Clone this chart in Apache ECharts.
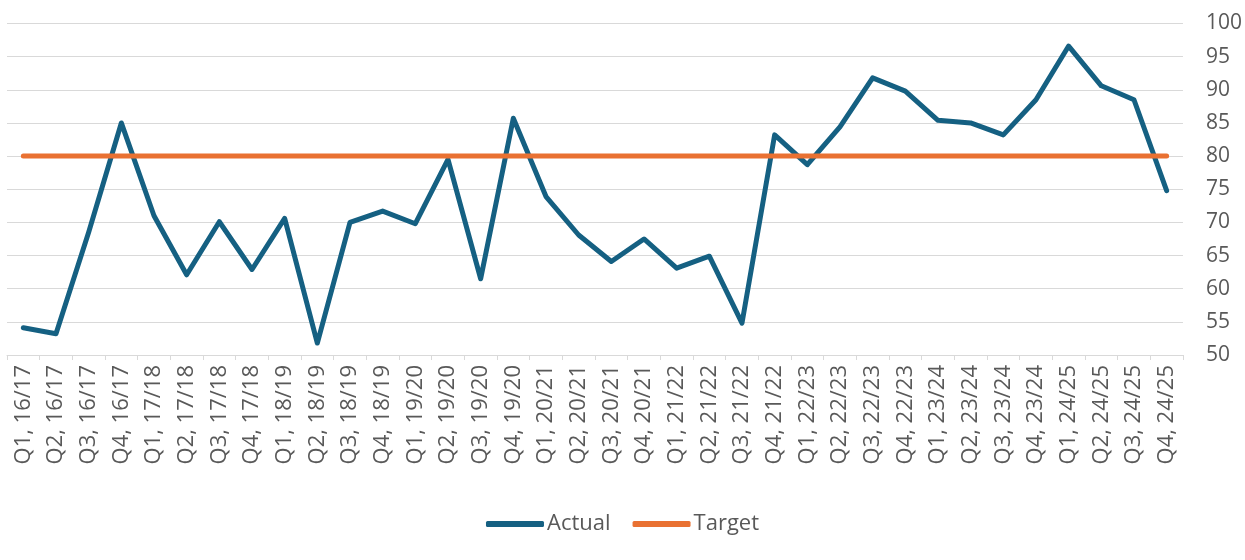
<!DOCTYPE html>
<html>
<head>
<meta charset="utf-8">
<script src="https://cdn.jsdelivr.net/npm/echarts@6/dist/echarts.min.js"></script>
<style>html,body{margin:0;padding:0;background:#fff}#c{width:1245px;height:560px}</style>
</head>
<body>
<div id="c"></div>
<script>
const categories = ["Q1, 16/17","Q2, 16/17","Q3, 16/17","Q4, 16/17","Q1, 17/18","Q2, 17/18","Q3, 17/18","Q4, 17/18","Q1, 18/19","Q2, 18/19","Q3, 18/19","Q4, 18/19","Q1, 19/20","Q2, 19/20","Q3, 19/20","Q4, 19/20","Q1, 20/21","Q2, 20/21","Q3, 20/21","Q4, 20/21","Q1, 21/22","Q2, 21/22","Q3, 21/22","Q4, 21/22","Q1, 22/23","Q2, 22/23","Q3, 22/23","Q4, 22/23","Q1, 23/24","Q2, 23/24","Q3, 23/24","Q4, 23/24","Q1, 24/25","Q2, 24/25","Q3, 24/25","Q4, 24/25"];
const actual = [54.1,53.2,68.5,85.0,71.0,62.1,70.1,62.9,70.6,51.8,70.0,71.7,69.8,79.5,61.5,85.7,73.9,68.1,64.1,67.5,63.1,64.9,54.8,83.2,78.7,84.4,91.8,89.8,85.4,85.0,83.2,88.5,96.6,90.6,88.5,74.8];
const target = [80,80,80,80,80,80,80,80,80,80,80,80,80,80,80,80,80,80,80,80,80,80,80,80,80,80,80,80,80,80,80,80,80,80,80,80];
const yTicks = {min: 50, max: 100, interval: 5};

const chart = echarts.init(document.getElementById('c'), null, {renderer: 'canvas'});
const font = "'Open Sans', 'Liberation Sans', Arial, sans-serif";
chart.setOption({
  animation: false,
  grid: {left: 7, right: 61, top: 23.5, bottom: 205, containLabel: false},
  legend: {
    top: 508, left: 'center', itemWidth: 58, itemHeight: 6, itemGap: 22,
    icon: 'roundRect',
    textStyle: {fontFamily: font, fontSize: 22, color: '#595959', padding: [0,0,0,-2]},
    data: ['Actual', 'Target']
  },
  xAxis: {
    type: 'category', data: categories, boundaryGap: true,
    axisLine: {lineStyle: {color: '#d9d9d9', width: 1}},
    axisTick: {show: true, length: 5, lineStyle: {color: '#d9d9d9'}},
    axisLabel: {rotate: 90, interval: 0, fontFamily: font, fontSize: 22, color: '#595959', margin: 10}
  },
  yAxis: {
    type: 'value', position: 'right', min: yTicks.min, max: yTicks.max, interval: yTicks.interval,
    axisLine: {show: false}, axisTick: {show: false},
    splitLine: {lineStyle: {color: '#d9d9d9', width: 1}},
    axisLabel: {fontFamily: font, fontSize: 21, color: '#595959', margin: 23}
  },
  series: [
    {name: 'Actual', type: 'line', data: actual, symbol: 'none', lineStyle: {color: '#156082', width: 5, cap: 'round', join: 'round'}, itemStyle: {color: '#156082'}},
    {name: 'Target', type: 'line', data: target, symbol: 'none', lineStyle: {color: '#E97132', width: 5, cap: 'round'}, itemStyle: {color: '#E97132'}}
  ]
});
</script>
</body>
</html>
